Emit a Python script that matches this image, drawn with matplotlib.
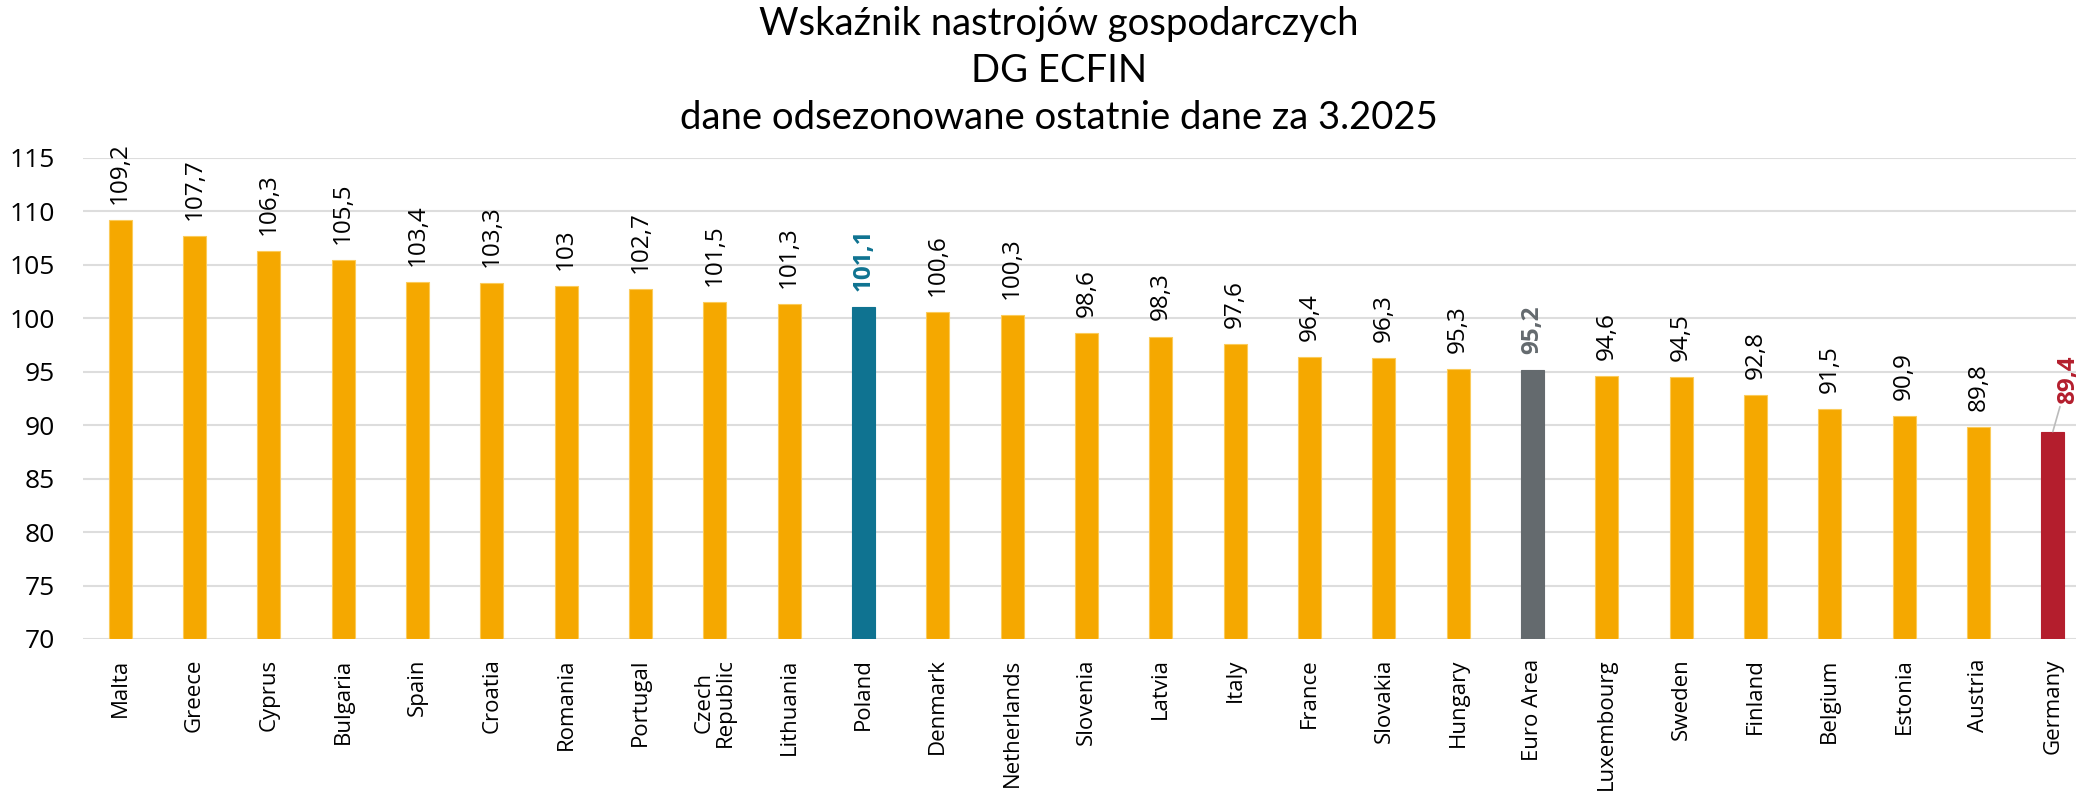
import matplotlib.pyplot as plt

# dane: wskaznik nastrojow gospodarczych (ESI), 3.2025
countries = ["Malta", "Greece", "Cyprus", "Bulgaria", "Spain", "Croatia", "Romania",
             "Portugal", "Czech\nRepublic", "Lithuania", "Poland", "Denmark", "Netherlands",
             "Slovenia", "Latvia", "Italy", "France", "Slovakia", "Hungary", "Euro Area",
             "Luxembourg", "Sweden", "Finland", "Belgium", "Estonia", "Austria", "Germany"]
values = [109.2, 107.7, 106.3, 105.5, 103.4, 103.3, 103.0, 102.7, 101.5, 101.3, 101.1,
          100.6, 100.3, 98.6, 98.3, 97.6, 96.4, 96.3, 95.3, 95.2, 94.6, 94.5, 92.8,
          91.5, 90.9, 89.8, 89.4]
yticks = [70, 75, 80, 85, 90, 95, 100, 105, 110, 115]

ORANGE = "#F5A800"
highlight = {"Poland": "#0F7391", "Euro Area": "#646A6E", "Germany": "#B41E2D"}

plt.rcParams['font.family'] = ['Open Sans', 'DejaVu Sans']

fig = plt.figure(figsize=(20.76, 7.98), dpi=100)
ax = fig.add_axes([83/2076, 1 - 639/798, (2090 - 83)/2076, (639 - 158)/798])

x = list(range(len(countries)))
colors = [highlight.get(c, ORANGE) for c in countries]
ax.bar(x, [v - 70 for v in values], bottom=70, width=0.31, color=colors,
       edgecolor=[c if c != ORANGE else "#FBCB5A" for c in colors], linewidth=0.8, zorder=3)

ax.set_ylim(70, 115)
ax.set_xlim(-0.5, 26.5)
ax.set_yticks(yticks)
ax.set_yticklabels([str(t) for t in yticks], fontsize=19)
ax.yaxis.grid(True, color="#DDDDDD", linewidth=1.5, zorder=0)
ax.set_axisbelow(True)
for s in ax.spines.values():
    s.set_visible(False)
ax.tick_params(axis="y", length=0, pad=20)
ax.tick_params(axis="x", length=0, pad=14)
ax.set_xticks(x)
ax.set_xticklabels(countries, rotation=90, fontsize=16, va="top", ha="center",
                   linespacing=1.0)

# etykiety danych
for xi, v, c in zip(x, values, countries):
    lab = f"{v:g}".replace(".", ",")
    if c == "Germany":
        ax.annotate(lab, xy=(xi, v), xytext=(xi + 0.2, v + 2.6), rotation=90,
                    ha="center", va="bottom", fontsize=17.5, fontweight="bold",
                    color=highlight[c],
                    arrowprops=dict(arrowstyle="-", color="#BBBBBB", lw=1.2,
                                    shrinkA=0, shrinkB=0))
    elif c in highlight:
        ax.text(xi, v + 1.5, lab, rotation=90, ha="center", va="bottom", fontsize=17.5,
                fontweight="bold", color=highlight[c])
    else:
        ax.text(xi, v + 1.5, lab, rotation=90, ha="center", va="bottom", fontsize=17.5,
                color="black")

fig.text(1059/2076, 1 - 6/798,
         "Wskaźnik nastrojów gospodarczych\nDG ECFIN\ndane odsezonowane ostatnie dane za 3.2025",
         ha="center", va="top", fontsize=27.5, linespacing=1.38, family=["Lato", "DejaVu Sans"])

fig.savefig("out.png", dpi=100)
